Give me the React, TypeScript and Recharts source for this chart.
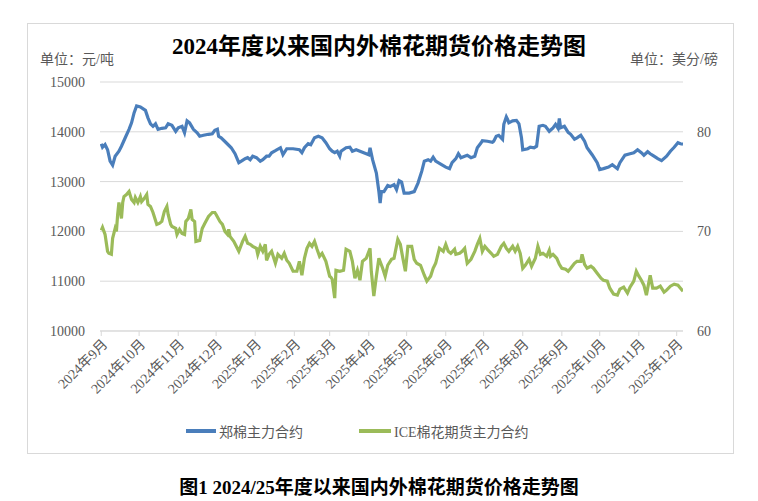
import { LineChart, Line, XAxis, YAxis, CartesianGrid } from 'recharts'

// x = days since 2024-09-01
const monthTicks = [0, 30, 61, 91, 122, 153, 181, 212, 242, 273, 303, 334, 365, 395, 426, 456]
const monthLabels = [
  '2024年9月', '2024年10月', '2024年11月', '2024年12月',
  '2025年1月', '2025年2月', '2025年3月', '2025年4月', '2025年5月', '2025年6月',
  '2025年7月', '2025年8月', '2025年9月', '2025年10月', '2025年11月', '2025年12月',
]
const leftTicks = [10000, 11000, 12000, 13000, 14000, 15000]
const rightTicks = [60, 70, 80]

// 郑棉主力合约, 元/吨
const zhengSeries: [number, number][] = [
  [0, 13760], [1, 13690], [3, 13745], [5, 13640], [7, 13410], [9, 13330], [11, 13510], [14, 13610],
  [16, 13710], [19, 13880], [22, 14050], [24, 14180], [26, 14380], [28, 14520], [31, 14500], [35, 14430],
  [37, 14280], [39, 14160], [41, 14110], [43, 14160], [45, 14050], [48, 14070], [51, 14080], [53, 14160],
  [56, 14130], [59, 14010], [61, 14080], [64, 14110], [66, 13980], [68, 14220], [70, 14180], [73, 14050],
  [76, 13980], [78, 13910], [81, 13930], [85, 13950], [88, 13960], [90, 14030], [92, 14050], [93, 13910],
  [95, 13880], [99, 13780], [103, 13680], [106, 13560], [109, 13380], [111, 13410], [114, 13460], [116, 13480],
  [118, 13440], [120, 13510], [123, 13480], [126, 13410], [128, 13440], [131, 13510], [133, 13510], [135, 13580],
  [138, 13620], [142, 13680], [144, 13540], [147, 13660], [152, 13660], [157, 13640], [159, 13580], [161, 13680],
  [164, 13760], [166, 13740], [169, 13880], [172, 13910], [175, 13880], [178, 13780], [181, 13660], [183, 13610],
  [185, 13580], [187, 13610], [189, 13510], [190, 13610], [194, 13680], [197, 13690], [199, 13610], [202, 13640],
  [206, 13600], [210, 13560], [212, 13540], [213, 13680], [215, 13440], [218, 13170], [220, 12800], [221, 12570],
  [222, 12800], [224, 12800], [227, 12920], [229, 12900], [232, 12940], [234, 12840], [236, 13020], [238, 12990],
  [240, 12770], [244, 12770], [248, 12800], [251, 12970], [254, 13210], [256, 13410], [259, 13440], [261, 13410],
  [263, 13490], [265, 13410], [269, 13350], [273, 13290], [276, 13260], [278, 13380], [281, 13460], [283, 13560],
  [285, 13480], [288, 13510], [290, 13530], [293, 13480], [296, 13510], [298, 13680], [301, 13780], [302, 13820],
  [306, 13810], [310, 13790], [311, 13810], [313, 13910], [315, 13930], [318, 13850], [319, 14150], [321, 14300],
  [322, 14250], [323, 14180], [326, 14220], [329, 14230], [331, 14160], [333, 13880], [334, 13640], [338, 13660],
  [340, 13690], [343, 13680], [345, 13710], [347, 14110], [350, 14130], [352, 14110], [355, 14010], [358, 14080],
  [360, 14150], [362, 14070], [363, 14270], [364, 14080], [367, 14110], [370, 13990], [372, 13950], [375, 13850],
  [377, 13880], [380, 13930], [383, 13810], [385, 13680], [389, 13540], [393, 13380], [395, 13240], [398, 13260],
  [402, 13290], [405, 13340], [409, 13260], [411, 13380], [415, 13530], [419, 13560], [422, 13580], [425, 13640],
  [428, 13580], [430, 13530], [433, 13600], [435, 13560], [438, 13510], [441, 13460], [444, 13420], [448, 13510],
  [451, 13610], [454, 13690], [457, 13780], [459, 13760], [461, 13750],
]

// ICE棉花期货主力合约, 美分/磅
const iceSeries: [number, number][] = [
  [0, 70.1], [1, 70.4], [3, 69.7], [5, 68.0], [6, 67.8], [8, 67.7], [9, 69.3], [11, 70.3], [12, 70.0],
  [13, 71.7], [14, 72.9], [16, 71.3], [17, 72.9], [18, 73.5], [20, 73.7], [22, 74.0], [24, 73.2], [26, 72.9],
  [27, 73.4], [29, 72.9], [31, 73.5], [32, 73.0], [34, 73.3], [36, 73.7], [37, 72.7], [39, 72.5], [41, 71.9],
  [44, 70.7], [46, 70.8], [48, 71.0], [50, 72.0], [52, 72.5], [53, 71.7], [55, 70.7], [56, 70.5], [59, 70.3],
  [60, 69.7], [62, 70.2], [64, 69.8], [66, 69.7], [67, 71.0], [69, 71.3], [71, 72.2], [72, 71.2], [74, 71.0],
  [75, 69.0], [78, 69.1], [80, 70.3], [82, 70.8], [85, 71.5], [88, 71.9], [90, 71.9], [91, 71.7], [94, 71.0],
  [96, 70.7], [98, 70.0], [100, 69.7], [101, 70.2], [102, 69.5], [105, 69.0], [107, 68.5], [109, 68.0],
  [112, 69.0], [114, 69.5], [116, 68.8], [118, 68.7], [120, 68.5], [123, 68.3], [124, 67.7], [126, 68.5],
  [128, 68.0], [130, 68.7], [131, 67.1], [133, 67.7], [135, 68.0], [138, 66.8], [140, 67.7], [143, 67.3],
  [145, 67.8], [147, 67.1], [149, 66.8], [152, 66.0], [155, 66.0], [157, 67.0], [159, 65.6], [161, 67.3],
  [163, 68.3], [165, 68.8], [167, 68.5], [169, 69.0], [171, 68.2], [173, 67.5], [175, 67.8], [178, 67.0],
  [181, 65.5], [182, 65.4], [183, 65.2], [185, 63.3], [186, 66.1], [189, 66.0], [192, 66.1], [194, 68.2],
  [197, 68.0], [199, 67.0], [201, 65.3], [203, 66.1], [205, 65.1], [207, 67.0], [210, 67.3], [213, 68.3],
  [214, 66.0], [216, 63.5], [218, 65.5], [220, 67.3], [223, 66.3], [225, 65.5], [227, 66.6], [230, 67.2],
  [232, 67.3], [235, 69.2], [237, 68.7], [239, 67.3], [241, 66.0], [243, 68.5], [246, 68.5], [248, 67.2],
  [250, 66.8], [253, 66.6], [256, 65.6], [258, 65.0], [261, 65.5], [263, 66.3], [265, 66.8], [268, 68.3],
  [271, 68.0], [273, 68.7], [275, 68.0], [277, 67.8], [280, 68.2], [281, 67.7], [284, 67.8], [286, 68.0],
  [288, 68.3], [290, 66.8], [293, 67.2], [296, 68.0], [298, 68.7], [300, 69.3], [302, 68.0], [304, 68.5],
  [306, 68.2], [309, 67.8], [311, 67.5], [314, 67.7], [317, 68.5], [319, 68.8], [321, 68.3], [323, 68.0],
  [326, 68.5], [328, 68.0], [330, 68.5], [332, 67.8], [334, 66.3], [336, 66.6], [339, 67.2], [341, 66.5],
  [344, 67.3], [346, 68.5], [348, 67.7], [350, 67.8], [353, 67.5], [355, 68.1], [356, 67.5], [358, 67.7],
  [361, 67.3], [363, 66.7], [365, 66.3], [368, 66.2], [370, 66.0], [372, 66.3], [375, 66.8], [377, 67.0],
  [380, 67.0], [381, 67.7], [383, 66.7], [385, 66.3], [388, 66.5], [390, 66.3], [393, 65.8], [396, 65.3],
  [398, 65.1], [401, 65.0], [403, 64.3], [406, 63.7], [409, 63.6], [411, 64.2], [414, 64.4], [417, 63.8],
  [419, 64.4], [422, 65.0], [424, 66.0], [426, 65.5], [428, 65.1], [430, 64.6], [432, 63.6], [435, 65.6],
  [437, 64.3], [440, 64.3], [443, 64.5], [446, 63.9], [448, 64.1], [451, 64.5], [454, 64.7], [457, 64.6],
  [459, 64.3], [461, 64.0],
]

const FONT = "'Liberation Serif', 'Noto Sans CJK SC', serif"
const GRID = '#d9d9d9'
const TEXT = '#595959'
const BLUE = '#4a7ebb'
const GREEN = '#9bbb59'

const zhengData = zhengSeries.map(([day, v]) => ({ day, v }))
const iceData = iceSeries.map(([day, v]) => ({ day, v }))

const monthLabel = (d: number) => monthLabels[monthTicks.indexOf(d)] ?? ''

export default function App() {
  return (
    <div style={{ position: 'absolute', left: 0, top: 0, width: 758, height: 501, background: '#fff', fontFamily: FONT }}>
      <div style={{ position: 'absolute', left: 27, top: 23, width: 707, height: 431, border: `1px solid ${GRID}`, boxSizing: 'border-box' }} />

      <div style={{ position: 'absolute', left: 0, width: 758, top: 27, textAlign: 'center', fontSize: 23, fontWeight: 'bold', color: '#000' }}>
        2024年度以来国内外棉花期货价格走势图
      </div>
      <div style={{ position: 'absolute', left: 40, top: 48, fontSize: 14, color: TEXT }}>单位：元/吨</div>
      <div style={{ position: 'absolute', right: 40, top: 48, fontSize: 14, color: TEXT }}>单位：美分/磅</div>

      <div style={{ position: 'absolute', left: 0, top: 0 }}>
        <LineChart width={758} height={501} margin={{ top: 82, right: 35, bottom: 100, left: 40 }}>
          <CartesianGrid yAxisId="left" vertical={false} stroke={GRID} />
          <XAxis
            dataKey="day"
            type="number"
            domain={[-1, 461]}
            ticks={monthTicks}
            interval={0}
            allowDataOverflow
            height={70}
            stroke={GRID}
            tickSize={5}
            tickFormatter={monthLabel}
            angle={-45}
            textAnchor="end"
            tick={{ fontSize: 14, fill: TEXT, fontFamily: FONT }}
          />
          <YAxis
            yAxisId="left"
            width={60}
            domain={[10000, 15000]}
            ticks={leftTicks}
            axisLine={false}
            tickLine={false}
            tickMargin={9}
            tick={{ fontSize: 14, fill: TEXT, fontFamily: FONT }}
          />
          <YAxis
            yAxisId="right"
            orientation="right"
            width={40}
            domain={[60, 85]}
            ticks={rightTicks}
            axisLine={false}
            tickLine={false}
            tickMargin={8}
            tick={{ fontSize: 14, fill: TEXT, fontFamily: FONT }}
          />
          <Line
            yAxisId="left"
            data={zhengData}
            dataKey="v"
            type="linear"
            stroke={BLUE}
            strokeWidth={3.2}
            dot={false}
            isAnimationActive={false}
          />
          <Line
            yAxisId="right"
            data={iceData}
            dataKey="v"
            type="linear"
            stroke={GREEN}
            strokeWidth={3.2}
            dot={false}
            isAnimationActive={false}
          />
        </LineChart>
      </div>

      <div style={{ position: 'absolute', left: 186, top: 421, display: 'flex', alignItems: 'center', fontSize: 14, color: TEXT }}>
        <span style={{ display: 'inline-block', width: 30, height: 4, background: BLUE, marginRight: 3 }} />
        <span>郑棉主力合约</span>
        <span style={{ display: 'inline-block', width: 32, height: 4, background: GREEN, marginLeft: 56, marginRight: 3 }} />
        <span>ICE棉花期货主力合约</span>
      </div>

      <div style={{ position: 'absolute', left: 0, width: 758, top: 472, textAlign: 'center', fontSize: 19, fontWeight: 'bold', color: '#000' }}>
        图1 2024/25年度以来国内外棉花期货价格走势图
      </div>
    </div>
  )
}
